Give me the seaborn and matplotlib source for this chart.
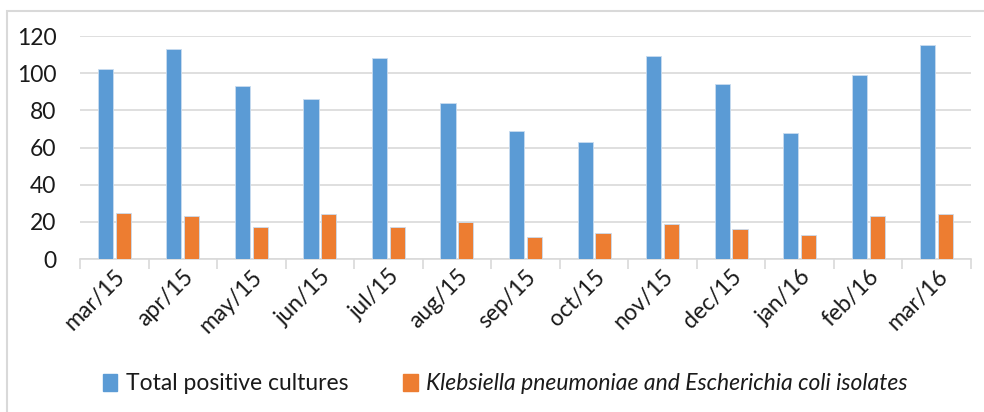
import matplotlib
matplotlib.use("Agg")
import matplotlib.pyplot as plt
import matplotlib.patches as mpatches
import pandas as pd
import seaborn as sns

months = ["mar/15", "apr/15", "may/15", "jun/15", "jul/15", "aug/15", "sep/15",
          "oct/15", "nov/15", "dec/15", "jan/16", "feb/16", "mar/16"]
total_positive = [102, 113, 93, 86, 108, 84, 69, 63, 109, 94, 68, 99, 115]
kp_ec_isolates = [25, 23, 17, 24, 17, 20, 12, 14, 19, 16, 13, 23, 24]

series_total = "Total positive cultures"
series_kpec = "Klebsiella pneumoniae and Escherichia coli isolates"

df = pd.DataFrame({
    "month": months * 2,
    "count": total_positive + kp_ec_isolates,
    "series": [series_total] * len(months) + [series_kpec] * len(months),
})

sns.set_theme(style="white")
plt.rcParams["font.family"] = ["Lato", "DejaVu Sans"]

fig = plt.figure(figsize=(9.84, 4.12), dpi=100)
ax = fig.add_axes([80 / 984, 1 - 259 / 412, (971 - 80) / 984, (259 - 36) / 412])

sns.barplot(data=df, x="month", y="count", hue="series", order=months,
            hue_order=[series_total, series_kpec],
            palette=["#5B9BD5", "#ED7D31"], saturation=1, width=0.52, gap=0.15,
            edgecolor="#c9dcef", linewidth=0.6, ax=ax, zorder=3)

ax.set_ylim(0, 120)
ax.set_xlim(-0.5, len(months) - 0.5)
ax.set_yticks(range(0, 121, 20))
ax.yaxis.grid(True, color="#d9d9d9", linewidth=1.2, zorder=0)
ax.set_axisbelow(True)
ax.set_xlabel("")
ax.set_ylabel("")

for side in ("left", "right", "top"):
    ax.spines[side].set_visible(False)
ax.spines["bottom"].set_color("#d9d9d9")
ax.spines["bottom"].set_linewidth(1.2)

ax.tick_params(axis="y", length=0, pad=17, labelsize=16.5, labelcolor="#1a1a1a")
ax.tick_params(axis="x", which="major", length=0, pad=5, labelsize=16.5,
               labelcolor="#1a1a1a")
ax.set_xticks([i - 0.5 for i in range(len(months) + 1)], minor=True)
ax.tick_params(axis="x", which="minor", length=7, width=1.2, color="#d9d9d9",
               bottom=True)
for lab in ax.get_xticklabels():
    lab.set_rotation(45)
    lab.set_ha("right")
    lab.set_rotation_mode("anchor")

ax.get_legend().remove()
handles = [mpatches.Patch(color="#5B9BD5"), mpatches.Patch(color="#ED7D31")]
leg = fig.legend(handles, [series_total, series_kpec], loc="center",
                 bbox_to_anchor=(505 / 984, 1 - 384 / 412), ncol=2,
                 frameon=False, fontsize=16.5, handlelength=0.65,
                 handleheight=0.7, handletextpad=0.35, columnspacing=2.4)
leg.get_texts()[1].set_fontstyle("italic")
for t in leg.get_texts():
    t.set_color("#1a1a1a")

# chart-area border
fig.patches.append(mpatches.Rectangle((7 / 984, -0.2), 1.2, 0.2 + 1 - 11 / 412,
                                      transform=fig.transFigure, fill=False,
                                      edgecolor="#d9d9d9", linewidth=1.5))

fig.savefig("out.png", dpi=100)
